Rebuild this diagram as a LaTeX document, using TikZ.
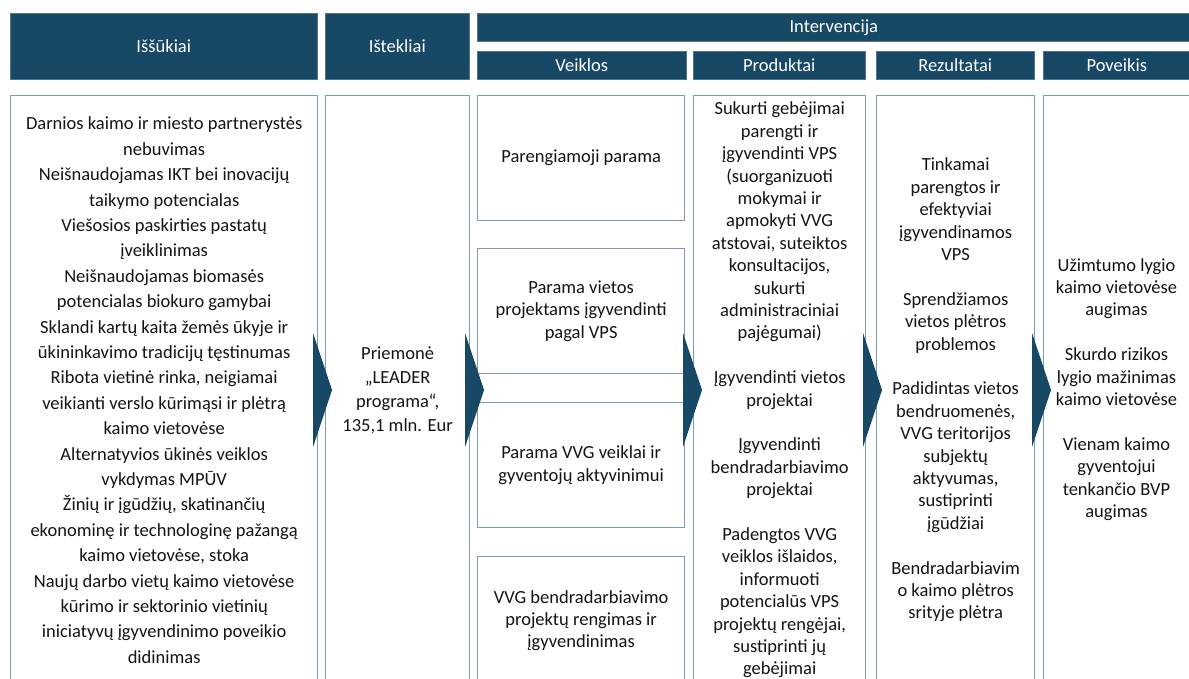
\documentclass[tikz,border=0pt]{standalone}
\usepackage{fontspec}
\setmainfont{Carlito}
\definecolor{hdr}{RGB}{23,72,102}
\definecolor{bord}{RGB}{125,155,182}
\definecolor{txt}{RGB}{20,20,20}
\begin{document}
\begin{tikzpicture}[x=1pt,y=-1pt,
  hd/.style={fill=hdr, draw=hdr!75!white, line width=0.6pt, text=white,
    font=\fontsize{18.5}{22}\selectfont, inner sep=0pt, anchor=north west},
  body/.style={draw=bord, line width=1.3pt, fill=white, align=center, text=txt,
    inner sep=0pt, anchor=north west, font=\fontsize{18.5}{22.4}\selectfont},
  btext/.style={align=center, text=txt, inner sep=0pt, font=\fontsize{18.5}{22.4}\selectfont},
  chev/.style={fill=hdr, draw=none}
]
\useasboundingbox (0,0) rectangle (1189,678);

% headers
\node[hd, minimum width=307pt, minimum height=66pt] (hIss) at (10,13) {Iššūkiai};
\node[hd, minimum width=144pt, minimum height=66pt] (hIst) at (325,13) {Ištekliai};
\node[hd, minimum width=718pt, minimum height=28pt] (hInt) at (477,13) {\hspace*{-5pt}Intervencija};
\node[hd, minimum width=209pt, minimum height=28pt] (hVei) at (477,51) {Veiklos};
\node[hd, minimum width=172pt, minimum height=28pt] (hPro) at (693,51) {Produktai};
\node[hd, minimum width=158pt, minimum height=28pt] (hRez) at (876,51) {Rezultatai};
\node[hd, minimum width=152pt, minimum height=28pt] (hPov) at (1043,51) {Poveikis\hspace*{5pt}};

% bodies
\node[body, minimum width=307pt, minimum height=589pt,
  font=\fontsize{18.5}{25.4}\selectfont] (bIss) at (10,95) {%
Darnios kaimo ir miesto partnerystės\\
nebuvimas\\
Neišnaudojamas IKT bei inovacijų\\
taikymo potencialas\\
Viešosios paskirties pastatų\\
įveiklinimas\\
Neišnaudojamas biomasės\\
potencialas biokuro gamybai\\
Sklandi kartų kaita žemės ūkyje ir\\
ūkininkavimo tradicijų tęstinumas\\
Ribota vietinė rinka, neigiamai\\
veikianti verslo kūrimąsi ir plėtrą\\
kaimo vietovėse\\
Alternatyvios ūkinės veiklos\\
vykdymas MPŪV\\
Žinių ir įgūdžių, skatinančių\\
ekonominę ir technologinę pažangą\\
kaimo vietovėse, stoka\\
Naujų darbo vietų kaimo vietovėse\\
kūrimo ir sektorinio vietinių\\
iniciatyvų įgyvendinimo poveikio\\
didinimas};

\node[body, minimum width=144pt, minimum height=589pt,
  font=\fontsize{18.5}{24}\selectfont] (bIst) at (325,95) {%
Priemonė\\„LEADER\\programa“,\\135,1 mln. Eur};

\node[body, minimum width=207pt, minimum height=125pt] (v1) at (477,95) {Parengiamoji parama};
\node[body, minimum width=207pt, minimum height=125pt] (v2) at (477,248) {Parama vietos\\projektams įgyvendinti\\pagal VPS};
\node[body, minimum width=207pt, minimum height=125pt] (v3) at (477,402) {Parama VVG veiklai ir\\gyventojų aktyvinimui};
\node[body, minimum width=207pt, minimum height=128pt] (v4) at (477,556) {VVG bendradarbiavimo\\projektų rengimas ir\\įgyvendinimas};

\node[body, minimum width=172pt, minimum height=589pt] (bPro) at (693,95) {%
Sukurti gebėjimai\\parengti ir\\įgyvendinti VPS\\(suorganizuoti\\mokymai ir\\apmokyti VVG\\atstovai, suteiktos\\konsultacijos,\\sukurti\\administraciniai\\pajėgumai)\\[22.4pt]%
Įgyvendinti vietos\\projektai\\[22.4pt]%
Įgyvendinti\\bendradarbiavimo\\projektai\\[22.4pt]%
Padengtos VVG\\veiklos išlaidos,\\informuoti\\potencialūs VPS\\projektų rengėjai,\\sustiprinti jų\\gebėjimai};

\node[body, minimum width=158pt, minimum height=589pt] (bRez) at (876,95) {%
Tinkamai\\parengtos ir\\efektyviai\\įgyvendinamos\\VPS\\[22.4pt]%
Sprendžiamos\\vietos plėtros\\problemos\\[22.4pt]%
Padidintas vietos\\bendruomenės,\\VVG teritorijos\\subjektų\\aktyvumas,\\sustiprinti\\įgūdžiai\\[22.4pt]%
Bendradarbiavim\\o kaimo plėtros\\srityje plėtra};

\node[body, minimum width=152pt, minimum height=589pt] (bPov) at (1043,95) {};
\node[btext] (tPov) at (1116.5,389.5) {%
Užimtumo lygio\\kaimo vietovėse\\augimas\\[22.4pt]%
Skurdo rizikos\\lygio mažinimas\\kaimo vietovėse\\[22.4pt]%
Vienam kaimo\\gyventojui\\tenkančio BVP\\augimas};

% chevrons
\foreach \xx in {313,465,683,863,1032}{
  \fill[chev] (\xx,333) -- (\xx+19,390) -- (\xx,447) -- cycle;
}
\end{tikzpicture}
\end{document}
